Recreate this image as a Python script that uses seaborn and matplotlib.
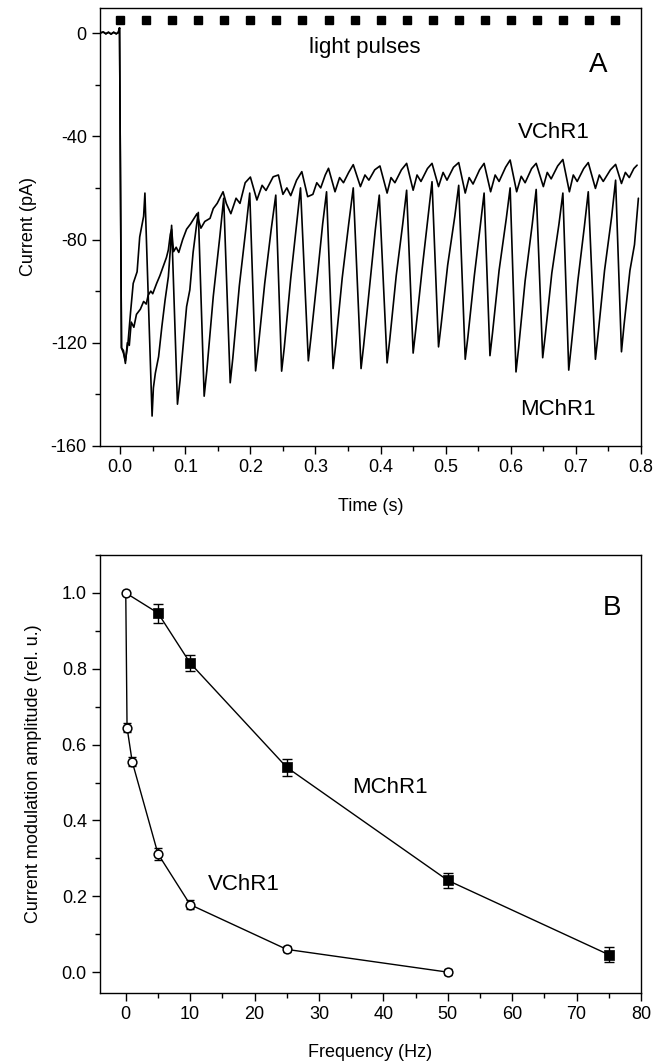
import numpy as np
import pandas as pd
import matplotlib
matplotlib.use("Agg")
import matplotlib.pyplot as plt
import seaborn as sns
from matplotlib import font_manager
from matplotlib.ticker import MultipleLocator

sns.set_theme(style="ticks")
names = {f.name for f in font_manager.fontManager.ttflist}
NARROW = "Liberation Sans Narrow" if "Liberation Sans Narrow" in names else "Liberation Sans"
plt.rcParams["font.family"] = ["Liberation Sans", "DejaVu Sans"]
plt.rcParams["axes.unicode_minus"] = False
plt.rcParams["text.color"] = "black"
plt.rcParams["axes.labelcolor"] = "black"
plt.rcParams["xtick.color"] = "black"
plt.rcParams["ytick.color"] = "black"

# ---------------- Panel A data ----------------
pulse_times = [0.00, 0.04, 0.08, 0.12, 0.16, 0.20, 0.24, 0.28, 0.32, 0.36,
               0.40, 0.44, 0.48, 0.52, 0.56, 0.60, 0.64, 0.68, 0.72, 0.76]
pulse_level = [5.0] * len(pulse_times)

mchr1_t = [-0.031, -0.026, -0.022, -0.018, -0.014, -0.010, -0.006, -0.003, -0.001,
           0.002, 0.005, 0.008, 0.012, 0.016, 0.020, 0.026, 0.030, 0.036, 0.038,
           0.049, 0.051, 0.054, 0.059, 0.064, 0.069, 0.074, 0.077, 0.079,
           0.088, 0.092, 0.102, 0.107, 0.112, 0.117, 0.120,
           0.129, 0.133, 0.143, 0.153, 0.159,
           0.169, 0.173, 0.183, 0.193, 0.199,
           0.208, 0.212, 0.222, 0.232, 0.239,
           0.248, 0.252, 0.262, 0.271, 0.277,
           0.289, 0.293, 0.303, 0.311, 0.317,
           0.327, 0.331, 0.341, 0.351, 0.358,
           0.370, 0.374, 0.384, 0.392, 0.398,
           0.410, 0.414, 0.424, 0.434, 0.440,
           0.450, 0.454, 0.464, 0.473, 0.479,
           0.489, 0.493, 0.503, 0.514, 0.520,
           0.530, 0.534, 0.544, 0.553, 0.559,
           0.568, 0.572, 0.582, 0.593, 0.599,
           0.608, 0.612, 0.622, 0.633, 0.639,
           0.649, 0.653, 0.663, 0.674, 0.680,
           0.689, 0.693, 0.703, 0.713, 0.719,
           0.730, 0.734, 0.744, 0.755, 0.761,
           0.770, 0.774, 0.783, 0.790, 0.796]
mchr1_i = [0.0, 0.4, -0.3, 0.3, -0.4, 0.3, -0.3, 0.2, 2.0,
           -122.0, -124.0, -127.0, -120.0, -108.0, -97.0, -92.5, -79.0, -71.0, -62.0,
           -148.4, -137.5, -131.8, -125.4, -113.8, -103.4, -94.4, -84.0, -74.5,
           -143.8, -134.5, -106.0, -99.5, -85.0, -75.0, -69.5,
           -140.7, -131.0, -102.0, -79.0, -64.0,
           -135.5, -126.0, -98.0, -76.0, -62.0,
           -130.9, -122.0, -97.0, -76.0, -62.8,
           -131.0, -122.0, -95.0, -74.0, -60.0,
           -127.0, -118.0, -94.0, -74.0, -61.5,
           -130.0, -121.0, -95.0, -74.0, -60.0,
           -130.0, -121.0, -96.0, -76.0, -62.8,
           -127.8, -119.0, -94.0, -74.0, -60.9,
           -124.0, -115.0, -91.0, -71.0, -57.6,
           -121.6, -113.0, -90.0, -71.0, -59.0,
           -126.4, -118.0, -94.0, -75.0, -62.0,
           -125.0, -116.0, -92.0, -72.0, -60.0,
           -131.3, -122.0, -96.0, -74.0, -60.6,
           -125.8, -117.0, -93.0, -74.0, -62.0,
           -130.6, -121.0, -96.0, -75.0, -61.5,
           -126.4, -117.0, -92.0, -71.0, -57.0,
           -123.5, -113.0, -92.0, -82.0, -64.0]

vchr1_t = [-0.031, -0.026, -0.022, -0.018, -0.014, -0.010, -0.006, -0.003, -0.001,
           0.002, 0.005, 0.008, 0.011, 0.014, 0.017, 0.021, 0.025, 0.031, 0.036,
           0.040, 0.043, 0.047, 0.050, 0.056, 0.061, 0.066, 0.071, 0.074, 0.077,
           0.079, 0.082, 0.086, 0.090, 0.096, 0.102, 0.108, 0.113, 0.118, 0.121,
           0.124, 0.130, 0.138, 0.143, 0.149, 0.153, 0.158, 0.163,
           0.170, 0.178, 0.184, 0.192, 0.200,
           0.210, 0.218, 0.224, 0.235, 0.243,
           0.250, 0.256, 0.262, 0.271, 0.279,
           0.288, 0.296, 0.302, 0.308, 0.315, 0.320,
           0.330, 0.337, 0.343, 0.351, 0.358,
           0.369, 0.376, 0.382, 0.391, 0.399,
           0.410, 0.416, 0.422, 0.432, 0.440,
           0.450, 0.456, 0.462, 0.472, 0.479,
           0.489, 0.496, 0.502, 0.512, 0.520,
           0.530, 0.536, 0.542, 0.552, 0.559,
           0.569, 0.576, 0.582, 0.592, 0.599,
           0.609, 0.616, 0.622, 0.632, 0.639,
           0.650, 0.656, 0.662, 0.672, 0.680,
           0.690, 0.696, 0.702, 0.712, 0.719,
           0.730, 0.736, 0.742, 0.753, 0.761,
           0.770, 0.776, 0.782, 0.789, 0.794]
vchr1_i = [0.0, 0.4, -0.3, 0.3, -0.4, 0.3, -0.3, 0.2, 2.0,
           -122.0, -123.0, -128.0, -120.0, -121.0, -112.0, -114.0, -109.0, -107.0, -104.0,
           -105.0, -101.6, -100.0, -101.0, -97.0, -94.0, -90.5, -87.0, -84.0, -78.0,
           -76.0, -84.7, -83.0, -85.0, -80.0, -76.0, -74.0, -72.0, -70.0, -73.0,
           -75.6, -73.0, -71.8, -68.0, -66.0, -64.0, -61.5, -66.0,
           -70.0, -64.0, -66.0, -58.0, -55.8,
           -64.7, -59.0, -61.0, -55.7, -55.0,
           -62.5, -60.0, -63.0, -57.0, -53.7,
           -63.4, -62.5, -58.0, -60.0, -55.0, -52.4,
           -61.5, -56.0, -58.0, -54.0, -51.0,
           -59.5, -55.0, -57.0, -53.0, -51.5,
           -62.0, -56.0, -58.0, -53.0, -50.5,
           -60.9, -55.0, -57.5, -52.5, -50.5,
           -59.5, -54.0, -57.0, -52.0, -50.2,
           -62.0, -56.0, -58.5, -53.0, -50.5,
           -61.5, -55.0, -57.5, -52.0, -49.2,
           -61.5, -55.5, -58.0, -52.5, -50.5,
           -59.5, -54.0, -56.5, -51.5, -49.0,
           -61.5, -55.0, -57.5, -52.5, -50.2,
           -60.2, -55.0, -57.5, -53.0, -50.9,
           -58.3, -54.0, -56.0, -52.5, -51.2]

# ---------------- Panel B data ----------------
vchr1_freq = [0, 0.2, 1, 5, 10, 25, 50]
vchr1_amp = [1.0, 0.645, 0.555, 0.312, 0.178, 0.060, 0.0]
vchr1_err = [0.0, 0.012, 0.012, 0.015, 0.012, 0.008, 0.008]
mchr1_freq = [0, 5, 10, 25, 50, 75]
mchr1_amp = [1.0, 0.947, 0.815, 0.540, 0.242, 0.046]
mchr1_err = [0.0, 0.025, 0.022, 0.022, 0.020, 0.020]

fig = plt.figure(figsize=(6.71, 10.63), dpi=100)
axA = fig.add_axes([100 / 671, 1 - 446 / 1063, 541 / 671, 438 / 1063])
axB = fig.add_axes([100 / 671, 1 - 993 / 1063, 541 / 671, 438 / 1063])

TICK_FS = 13
LAB_FS = 13
ANN_FS = 16

# ---- Panel A ----
dfM = pd.DataFrame({"t": mchr1_t, "i": mchr1_i})
dfV = pd.DataFrame({"t": vchr1_t, "i": vchr1_i})
sns.lineplot(data=dfV, x="t", y="i", ax=axA, sort=False, estimator=None,
             color="black", lw=1.2)
sns.lineplot(data=dfM, x="t", y="i", ax=axA, sort=False, estimator=None,
             color="black", lw=1.2)
axA.plot(pulse_times, pulse_level, ls="none", marker="s", ms=5.5, color="black")
axA.set_xlim(-0.031, 0.8)
axA.set_ylim(-160, 9.7)
axA.xaxis.set_major_locator(MultipleLocator(0.1))
axA.xaxis.set_minor_locator(MultipleLocator(0.05))
axA.yaxis.set_major_locator(MultipleLocator(40))
axA.yaxis.set_minor_locator(MultipleLocator(20))
axA.set_xlabel("Time (s)", fontsize=LAB_FS, family=NARROW, labelpad=16)
axA.set_ylabel("Current (pA)", fontsize=LAB_FS, family=NARROW, labelpad=10)
axA.text(0.29, -5.5, "light pulses", fontsize=ANN_FS, va="center", ha="left")
axA.text(0.735, -12.5, "A", fontsize=20, va="center", ha="center")
axA.text(0.611, -38.5, "VChR1", fontsize=ANN_FS, va="center", ha="left")
axA.text(0.614, -146, "MChR1", fontsize=ANN_FS, va="center", ha="left")

# ---- Panel B ----
dfBV = pd.DataFrame({"f": vchr1_freq, "a": vchr1_amp})
dfBM = pd.DataFrame({"f": mchr1_freq, "a": mchr1_amp})
sns.lineplot(data=dfBM, x="f", y="a", ax=axB, sort=False, estimator=None,
             color="black", lw=1.0, zorder=2)
sns.scatterplot(x=mchr1_freq[1:], y=mchr1_amp[1:], ax=axB, marker="s", s=42,
                color="black", edgecolor="black", linewidth=0.5, zorder=3)
axB.errorbar(mchr1_freq[1:], mchr1_amp[1:], yerr=mchr1_err[1:], fmt="none",
             ecolor="black", elinewidth=1.0, capsize=3.5, capthick=1.0, zorder=2)
axB.errorbar(vchr1_freq, vchr1_amp, yerr=vchr1_err, fmt="none",
             ecolor="black", elinewidth=1.0, capsize=3.0, capthick=1.0, zorder=3)
sns.lineplot(data=dfBV, x="f", y="a", ax=axB, sort=False, estimator=None,
             color="black", lw=1.0, marker="o", markersize=6.3,
             markerfacecolor="white", markeredgecolor="black",
             markeredgewidth=1.1, zorder=4)
axB.set_xlim(-4, 80)
axB.set_ylim(-0.055, 1.1)
axB.xaxis.set_major_locator(MultipleLocator(10))
axB.xaxis.set_minor_locator(MultipleLocator(5))
axB.yaxis.set_major_locator(MultipleLocator(0.2))
axB.yaxis.set_minor_locator(MultipleLocator(0.1))
axB.set_xlabel("Frequency (Hz)", fontsize=LAB_FS, family=NARROW, labelpad=15)
axB.set_ylabel("Current modulation amplitude (rel. u.)", fontsize=LAB_FS,
               family=NARROW, labelpad=14)
axB.text(35.2, 0.487, "MChR1", fontsize=ANN_FS, va="center", ha="left")
axB.text(12.8, 0.23, "VChR1", fontsize=ANN_FS, va="center", ha="left")
axB.text(75.5, 0.96, "B", fontsize=20, va="center", ha="center")

for ax in (axA, axB):
    for s in ax.spines.values():
        s.set_visible(True)
        s.set_color("black")
        s.set_linewidth(1.0)
    ax.tick_params(which="major", direction="out", length=6, width=1.0,
                   color="black", labelcolor="black", labelsize=TICK_FS,
                   top=False, right=False)
    ax.tick_params(which="minor", direction="out", length=3.5, width=1.0,
                   color="black", top=False, right=False)
    for lab in ax.get_xticklabels() + ax.get_yticklabels():
        lab.set_family(NARROW)
    ax.set_facecolor("white")

fig.savefig("out.png", dpi=100, facecolor="white")
